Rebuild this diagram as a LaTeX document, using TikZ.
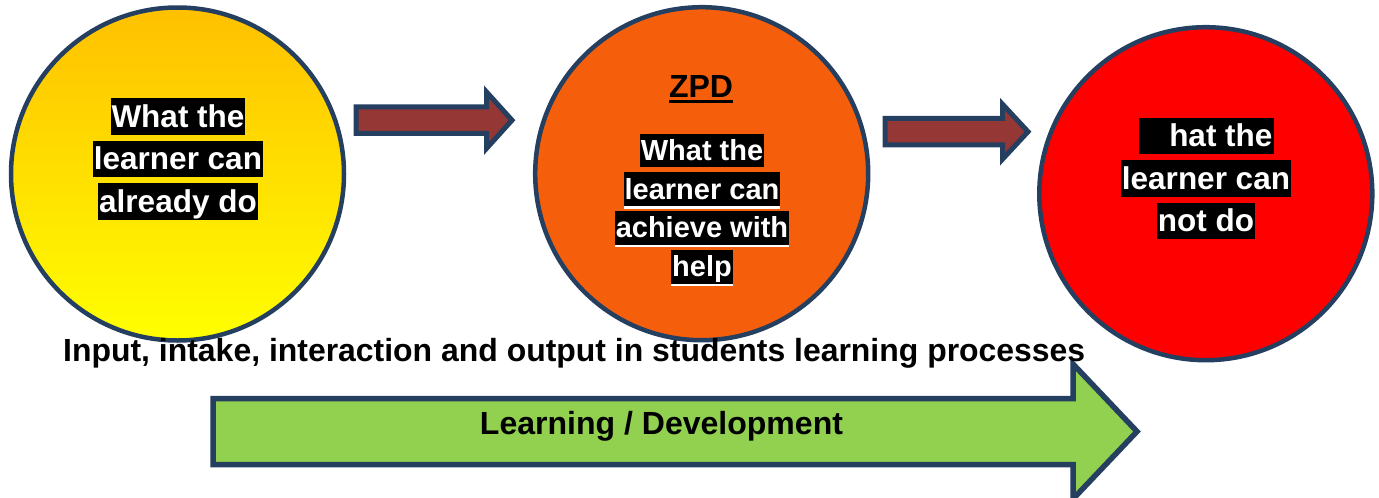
\documentclass[tikz,border=0pt]{standalone}
\usepackage{fontspec}
\setmainfont{Liberation Sans}
\usepackage{graphicx}
\usetikzlibrary{positioning}
\definecolor{rimblue}{HTML}{243F60}
\definecolor{cangold}{HTML}{FFC000}
\definecolor{canyellow}{HTML}{FFFF00}
\definecolor{zpdorange}{HTML}{F55F0C}
\definecolor{cannotred}{HTML}{FF0000}
\definecolor{arrowred}{HTML}{953735}
\definecolor{devgreen}{HTML}{92D050}
\tikzstyle{stage}=[circle,draw=rimblue,line width=4.5pt,minimum size=333pt,inner sep=0pt]
\tikzstyle{stagetext}=[align=center,inner sep=0pt,text=white]
\tikzstyle{steparrow}=[draw=rimblue,fill=arrowred,line width=5pt]
\tikzstyle{devarrow}=[draw=rimblue,fill=devgreen,line width=5.5pt]
\setlength{\fboxsep}{1pt}
\newcommand{\hilite}[1]{\colorbox{black}{\rule[-0.21em]{0pt}{1.1em}\textcolor{white}{#1}}}
\newcommand{\hiliteu}[1]{\setbox0\hbox{\hilite{#1}}\copy0\llap{\color{white}\rule[\dimexpr-\dp0-2.5pt\relax]{\wd0}{2.5pt}}}
\newcommand{\titleline}[1]{\setbox0\hbox{#1}\copy0\llap{\rule[-6pt]{\wd0}{3.5pt}}}

\begin{document}
\begin{tikzpicture}[x=1pt,y=-1pt]

  \useasboundingbox (0,0) rectangle (1379,498);

  % the three stages
  \foreach \x/\y/\name/\topc/\botc in {177.5/174/can/cangold/canyellow, 701.7/173.7/zpd/zpdorange/zpdorange, 1205.8/193.7/cannot/cannotred/cannotred}
    \node[stage, top color=\topc, bottom color=\botc] (\name) at (\x,\y) {};

  \node[stagetext,font=\bfseries\fontsize{31.5}{42.5}\selectfont] (cantext) at (178,159)
    {\hilite{What the}\\\hilite{learner can}\\\hilite{already do}};

  \node[anchor=base,inner sep=0pt,font=\bfseries\fontsize{32}{38}\selectfont] (zpdtitle) at (701,97) {\titleline{ZPD}};
  \node[stagetext,font=\bfseries\fontsize{29}{38.7}\selectfont] (zpdtext) at (702,209.8)
    {\hilite{What the}\\\hiliteu{learner can}\\\hiliteu{achieve with}\\\hiliteu{help}};

  \node[stagetext,font=\bfseries\fontsize{31.5}{42.5}\selectfont] (cannottext) at (1206,178.5)
    {\hilite{\phantom{W}hat the}\\\hilite{learner can}\\\hilite{not do}};

  % small arrows between the stages
  \foreach \l/\b/\t/\ty/\s/\h in {356/486.5/512/120.2/13.25/28.25, 885/1002.5/1028/131.7/13.25/27.5}
    \draw[steparrow] (\l,\ty-\s) -- (\b,\ty-\s) -- (\b,\ty-\h) -- (\t,\ty) -- (\b,\ty+\h) -- (\b,\ty+\s) -- (\l,\ty+\s) -- cycle;

  % big arrow
  \draw[devarrow] (213,398.5) -- (1073,398.5) -- (1073,364) -- (1137,431.5) -- (1073,499) -- (1073,464.5) -- (213,464.5) -- cycle;
  \node[anchor=base,inner sep=0pt,font=\bfseries\fontsize{32}{38}\selectfont] (devtext) at (661.5,434)
    {\resizebox{363pt}{\height}{Learning / Development}};

  \node[anchor=base west,inner sep=0pt,font=\bfseries\fontsize{32}{38}\selectfont] (caption) at (63,361)
    {\resizebox{1022pt}{\height}{Input, intake, interaction and output in students learning processes}};

\end{tikzpicture}
\end{document}
